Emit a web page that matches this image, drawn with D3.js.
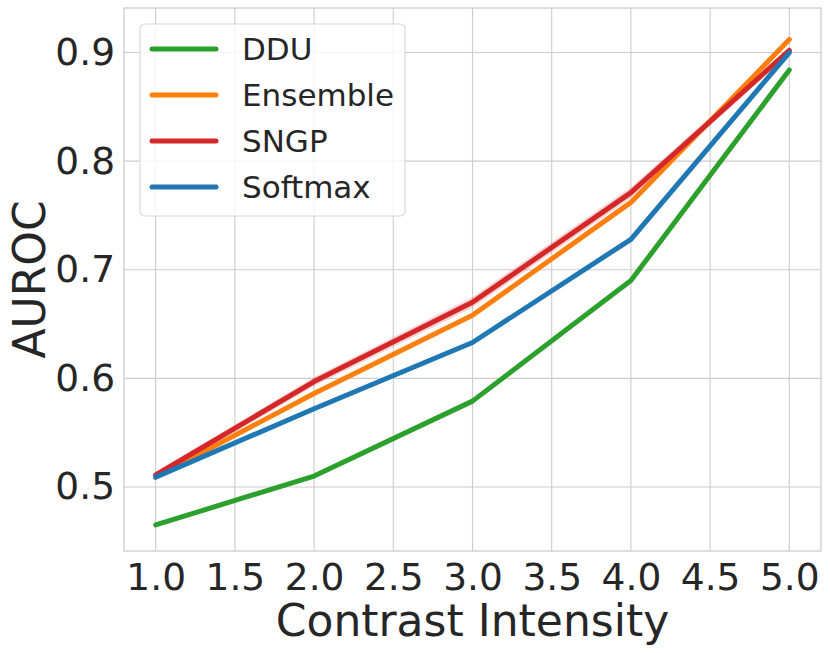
<!DOCTYPE html>
<html>
<head>
<meta charset="utf-8">
<script src="https://cdn.jsdelivr.net/npm/d3@7/dist/d3.min.js"></script>
<style>
  body { margin: 0; background: #fff; }
  text { font-family: "DejaVu Sans", sans-serif; fill: #262626; }
</style>
</head>
<body>
<div id="chart"></div>
<script>
// Données
const intensites = [1.0, 2.0, 3.0, 4.0, 5.0];
const noms = ["DDU", "Ensemble", "SNGP", "Softmax"];
const couleurs = ["#2ca02c", "#ff7f0e", "#d62728", "#1f77b4"];
const ddu      = [0.465, 0.510, 0.579, 0.690, 0.884];
const ensemble = [0.509, 0.586, 0.658, 0.762, 0.912];
const sngp     = [0.511, 0.597, 0.670, 0.771, 0.902];
const softmax  = [0.509, 0.572, 0.633, 0.728, 0.900];
// écart-type approximatif (bande claire autour des courbes)
const ddu_std      = [0.002, 0.002, 0.002, 0.002, 0.002];
const ensemble_std = [0.001, 0.001, 0.001, 0.001, 0.001];
const sngp_std     = [0.003, 0.004, 0.005, 0.005, 0.003];
const softmax_std  = [0.001, 0.001, 0.001, 0.001, 0.001];
const xTicks = [1.0, 1.5, 2.0, 2.5, 3.0, 3.5, 4.0, 4.5, 5.0];
const yTicks = [0.5, 0.6, 0.7, 0.8, 0.9];

const series = [
  {nom: noms[0], valeurs: ddu, std: ddu_std, couleur: couleurs[0]},
  {nom: noms[1], valeurs: ensemble, std: ensemble_std, couleur: couleurs[1]},
  {nom: noms[2], valeurs: sngp, std: sngp_std, couleur: couleurs[2]},
  {nom: noms[3], valeurs: softmax, std: softmax_std, couleur: couleurs[3]}
];

const largeur = 830, hauteur = 653;
const marge = {gauche: 124, droite: 9, haut: 8, bas: 102};

const svg = d3.select("#chart").append("svg")
  .attr("width", largeur)
  .attr("height", hauteur);

const x = d3.scaleLinear().domain([0.8, 5.2]).range([marge.gauche, largeur - marge.droite]);
const y = d3.scaleLinear().domain([0.441, 0.941]).range([hauteur - marge.bas, marge.haut]);

// Grille
const grille = svg.append("g");
grille.selectAll("line.gx").data(xTicks).join("line")
  .attr("x1", d => x(d)).attr("x2", d => x(d))
  .attr("y1", y.range()[0]).attr("y2", y.range()[1])
  .attr("stroke", "#cccccc").attr("stroke-width", 1.1);
grille.selectAll("line.gy").data(yTicks).join("line")
  .attr("y1", d => y(d)).attr("y2", d => y(d))
  .attr("x1", x.range()[0]).attr("x2", x.range()[1])
  .attr("stroke", "#cccccc").attr("stroke-width", 1.1);

// Cadre
svg.append("rect")
  .attr("x", x.range()[0]).attr("y", y.range()[1])
  .attr("width", x.range()[1] - x.range()[0])
  .attr("height", y.range()[0] - y.range()[1])
  .attr("fill", "none").attr("stroke", "#cccccc").attr("stroke-width", 1.3);

// Axes (libellés seulement)
const axeX = svg.append("g")
  .attr("transform", `translate(0,${y.range()[0]})`)
  .call(d3.axisBottom(x).tickValues(xTicks).tickFormat(d3.format(".1f")).tickSize(0).tickPadding(12));
axeX.select(".domain").remove();
axeX.selectAll("text").style("font-size", "37.5px").style("font-family", "DejaVu Sans").attr("fill", "#262626");

const axeY = svg.append("g")
  .attr("transform", `translate(${x.range()[0]},0)`)
  .call(d3.axisLeft(y).tickValues(yTicks).tickFormat(d3.format(".1f")).tickSize(0).tickPadding(9));
axeY.select(".domain").remove();
axeY.selectAll("text").style("font-size", "37.5px").style("font-family", "DejaVu Sans").attr("fill", "#262626");

svg.append("text")
  .attr("x", (x.range()[0] + x.range()[1]) / 2)
  .attr("y", 636)
  .attr("text-anchor", "middle")
  .style("font-size", "44px")
  .text("Contrast Intensity");

svg.append("text")
  .attr("transform", `translate(45,${(y.range()[0] + y.range()[1]) / 2}) rotate(-90)`)
  .attr("text-anchor", "middle")
  .style("font-size", "44px")
  .text("AUROC");

// Bandes et courbes
const aire = d3.area()
  .x((d, i) => x(intensites[i]))
  .y0(d => y(d[0] - d[1]))
  .y1(d => y(d[0] + d[1]));
const ligne = d3.line()
  .x((d, i) => x(intensites[i]))
  .y(d => y(d));

series.forEach(s => {
  svg.append("path")
    .attr("d", aire(s.valeurs.map((v, i) => [v, s.std[i]])))
    .attr("fill", s.couleur).attr("fill-opacity", 0.2).attr("stroke", "none");
});
series.forEach(s => {
  svg.append("path")
    .attr("d", ligne(s.valeurs))
    .attr("fill", "none")
    .attr("stroke", s.couleur)
    .attr("stroke-width", 5)
    .attr("stroke-linecap", "round")
    .attr("stroke-linejoin", "round");
});

// Légende
const legende = svg.append("g");
legende.append("rect")
  .attr("x", 140).attr("y", 24).attr("width", 265).attr("height", 192)
  .attr("rx", 5)
  .attr("fill", "#ffffff").attr("fill-opacity", 0.8)
  .attr("stroke", "#d6d6d6").attr("stroke-width", 1.1);
series.forEach((s, i) => {
  const yy = 49 + i * 46;
  legende.append("line")
    .attr("x1", 152).attr("x2", 216).attr("y1", yy).attr("y2", yy)
    .attr("stroke", s.couleur).attr("stroke-width", 5).attr("stroke-linecap", "round");
  legende.append("text")
    .attr("x", 242).attr("y", yy)
    .attr("dy", "0.36em")
    .style("font-size", "31px")
    .text(s.nom);
});
</script>
</body>
</html>
